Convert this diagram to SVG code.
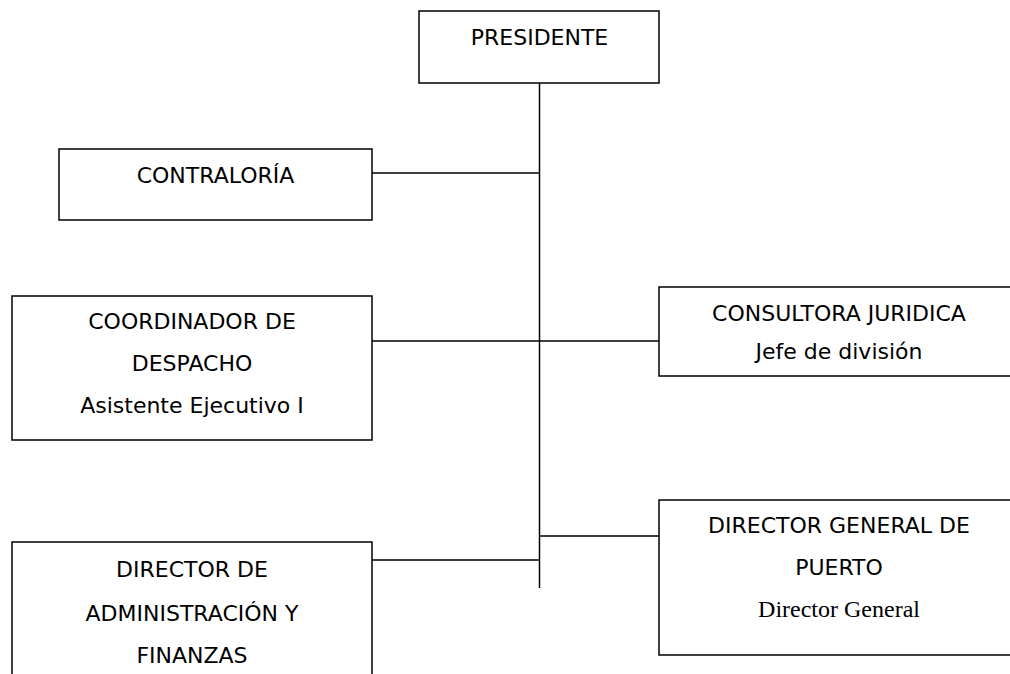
<svg xmlns="http://www.w3.org/2000/svg" width="1010" height="674" viewBox="0 0 1010 674">
<style>
.box{fill:#fff;stroke:#000;stroke-width:1.5}
.t{font-family:"DejaVu Sans","Open Sans",sans-serif;font-size:22px;fill:#000;text-anchor:middle}
.s{font-family:"Liberation Serif","Times New Roman",serif;font-size:24px;fill:#000;text-anchor:middle}
.c{stroke:#000;stroke-width:1.5;fill:none}
</style>
<rect width="1010" height="674" fill="#fff"/>
<g id="connectors">
<line class="c" x1="539.5" y1="83" x2="539.5" y2="588"/>
<line class="c" x1="372" y1="173" x2="539.5" y2="173"/>
<line class="c" x1="372" y1="341" x2="659" y2="341"/>
<line class="c" x1="539.5" y1="536" x2="659" y2="536"/>
<line class="c" x1="372" y1="560" x2="539.5" y2="560"/>
</g>
<g id="presidente">
<rect class="box" x="419" y="11" width="240" height="72"/>
<text class="t" x="539.5" y="45">PRESIDENTE</text>
</g>
<g id="contraloria">
<rect class="box" x="59" y="149" width="313" height="71"/>
<text class="t" x="215.5" y="183">CONTRALORÍA</text>
</g>
<g id="coordinador">
<rect class="box" x="12" y="296" width="360" height="144"/>
<text class="t" x="192" y="329">COORDINADOR DE</text>
<text class="t" x="192" y="371">DESPACHO</text>
<text class="t" x="192" y="413">Asistente Ejecutivo I</text>
</g>
<g id="consultora">
<rect class="box" x="659" y="287" width="360" height="89"/>
<text class="t" x="839" y="321">CONSULTORA JURIDICA</text>
<text class="t" x="839" y="359">Jefe de división</text>
</g>
<g id="director-puerto">
<rect class="box" x="659" y="500" width="360" height="155"/>
<text class="t" x="839" y="533">DIRECTOR GENERAL DE</text>
<text class="t" x="839" y="575">PUERTO</text>
<text class="s" x="839" y="617">Director General</text>
</g>
<g id="director-admin">
<rect class="box" x="12" y="542" width="360" height="150"/>
<text class="t" x="192" y="577">DIRECTOR DE</text>
<text class="t" x="192" y="621">ADMINISTRACIÓN Y</text>
<text class="t" x="192" y="663">FINANZAS</text>
</g>
</svg>
